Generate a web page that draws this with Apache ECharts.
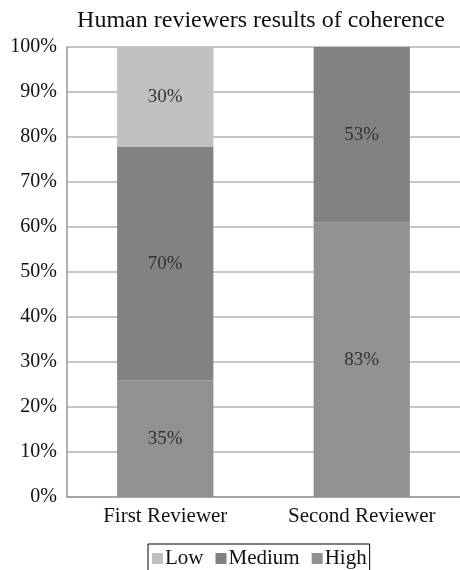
<!DOCTYPE html>
<html>
<head>
<meta charset="utf-8">
<script src="https://cdn.jsdelivr.net/npm/echarts@6/dist/echarts.min.js"></script>
<style>
  html, body { margin: 0; padding: 0; background: #fff; }
</style>
</head>
<body>
<div id="chart" style="width: 460px; height: 570px"></div>
<script>
const reviewers = ['First Reviewer', 'Second Reviewer']
const lowCounts = [30, 0]
const mediumCounts = [70, 53]
const highCounts = [35, 83]
const yTicks = [0, 10, 20, 30, 40, 50, 60, 70, 80, 90, 100]

const font = 'Liberation Serif'

// totals per reviewer, bars are normalized to 100%
const totals = reviewers.map((_, i) => lowCounts[i] + mediumCounts[i] + highCounts[i])
const toPct = (arr) => arr.map((v, i) => (v / totals[i]) * 100)

const labelOpt = {
  show: true,
  position: 'inside',
  fontFamily: font,
  fontSize: 19,
  color: '#333',
  formatter: (p) => {
    const raw = p.data.raw
    return raw ? raw + '%' : ''
  }
}

const makeSeries = (name, counts, color) => ({
  name: name,
  type: 'bar',
  stack: 'all',
  barWidth: '49%',
  itemStyle: { color: color },
  label: labelOpt,
  data: toPct(counts).map((v, i) => ({ value: v, raw: counts[i] }))
})

const chart = echarts.init(document.getElementById('chart'))
chart.setOption({
  animation: false,
  title: {
    text: 'Human reviewers results of coherence',
    left: 256,
    textAlign: 'center',
    top: 4,
    textStyle: { fontFamily: font, fontSize: 24, fontWeight: 'normal', color: '#111' }
  },
  grid: { left: 67, right: 0, top: 47, bottom: 73 },
  legend: {
    data: ['Low', 'Medium', 'High'],
    left: 148,
    top: 544,
    itemWidth: 11,
    itemHeight: 11,
    itemGap: 12,
    icon: 'rect',
    padding: [4, 3, 10, 4],
    borderColor: '#000',
    borderWidth: 1,
    textStyle: { fontFamily: font, fontSize: 21, color: '#111', padding: [0, 0, 0, -3] }
  },
  xAxis: {
    type: 'category',
    data: reviewers,
    axisLine: { lineStyle: { color: '#999', width: 1.5 } },
    axisTick: { show: false },
    axisLabel: { fontFamily: font, fontSize: 21, color: '#111', margin: 9 }
  },
  yAxis: {
    type: 'value',
    min: yTicks[0],
    max: yTicks[yTicks.length - 1],
    interval: 10,
    axisLine: { show: true, lineStyle: { color: '#999', width: 1.5 } },
    axisTick: { show: false },
    splitLine: { lineStyle: { color: '#b3b3b3', width: 1.5 } },
    axisLabel: { fontFamily: font, fontSize: 20, color: '#111', margin: 10, formatter: '{value}%' }
  },
  series: [
    makeSeries('High', highCounts, '#919191'),
    makeSeries('Medium', mediumCounts, '#828282'),
    makeSeries('Low', lowCounts, '#c0c0c0')
  ]
})
</script>
</body>
</html>
